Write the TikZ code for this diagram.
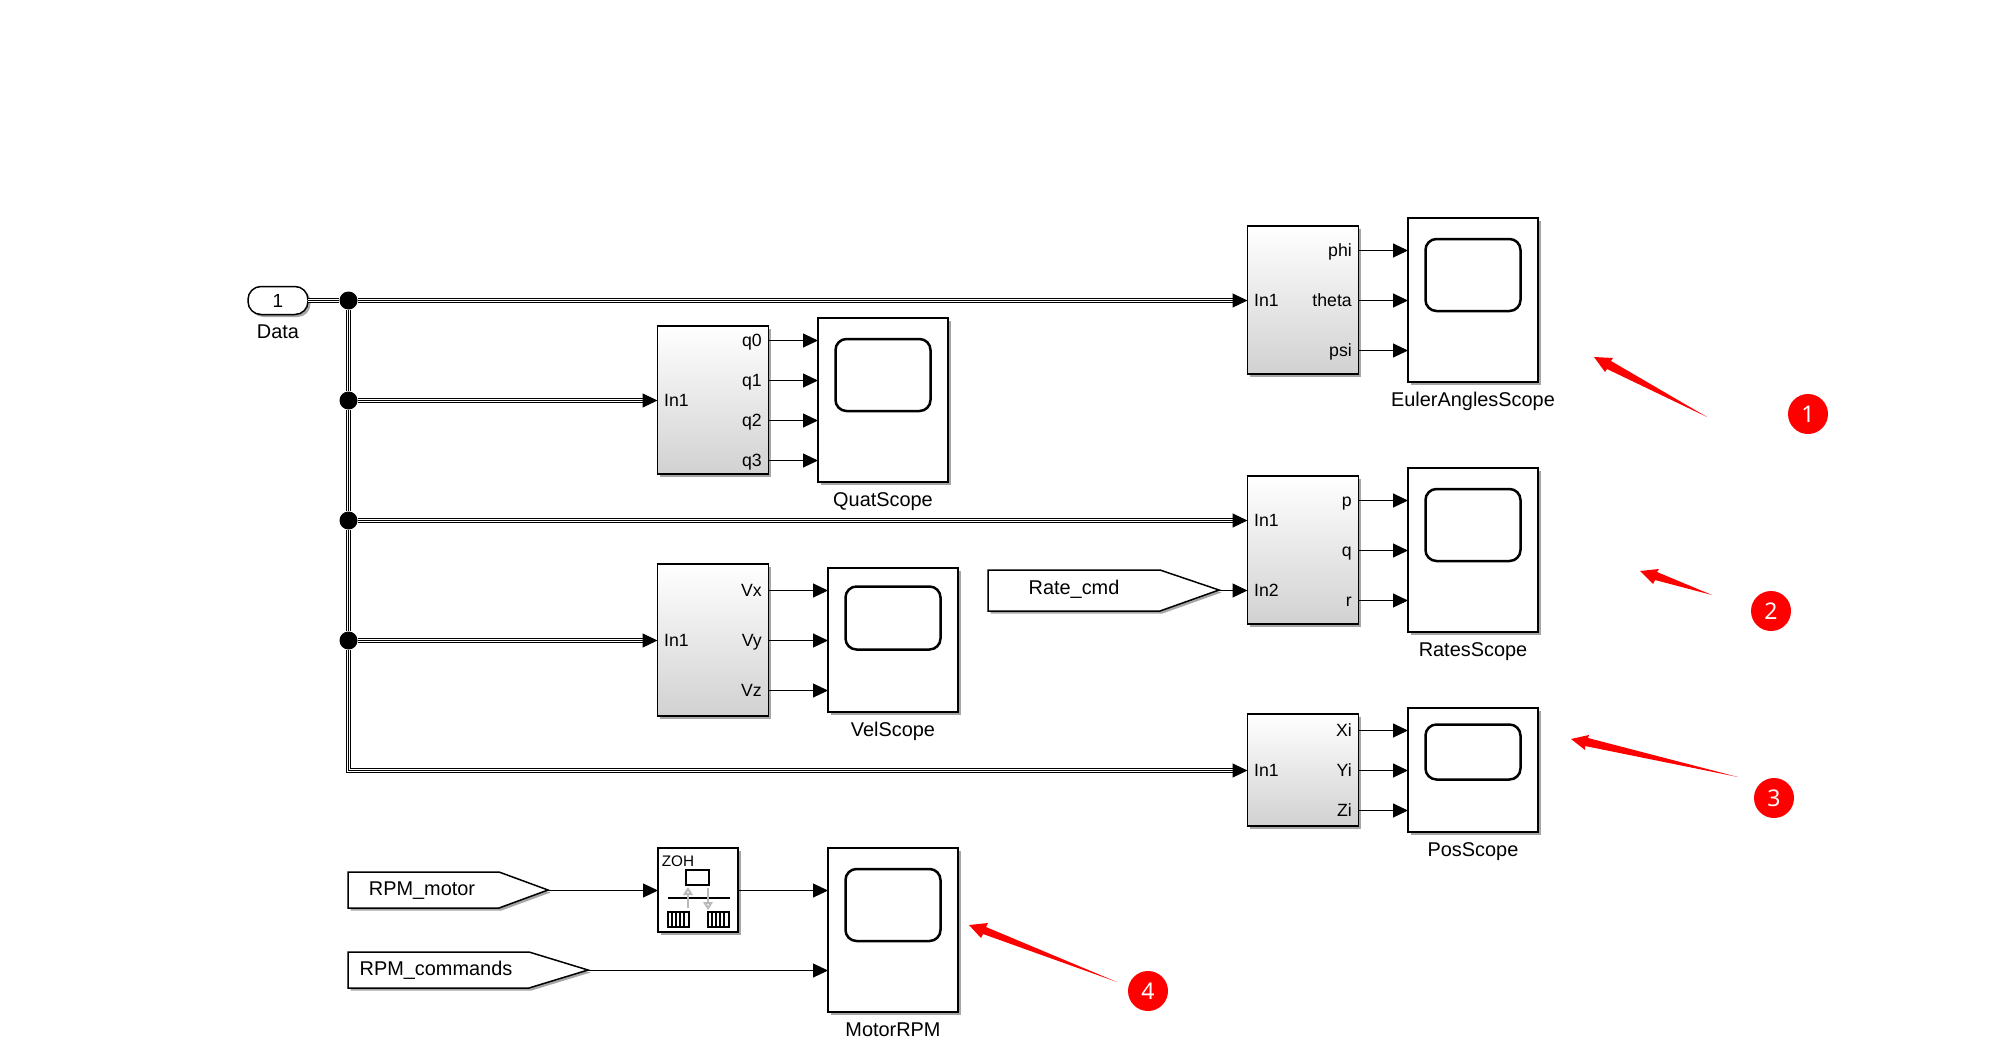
\documentclass[tikz,border=0pt]{standalone}
\usepackage{fontspec}
\setmainfont{Liberation Sans}
\newfontfamily\badgefont{Noto Sans}
\usetikzlibrary{arrows.meta,positioning,shadows}

\tikzset{
    blkshadow/.style={drop shadow={shadow xshift=2.5pt,shadow yshift=-2.5pt,fill=black,opacity=0.35}},
    subsys/.style={draw,line width=1.5pt,inner sep=0pt,outer sep=0pt,minimum width=111pt,blkshadow,
        top color=white,middle color=white,bottom color=black!18},
    scopeblk/.style={draw,line width=1.5pt,fill=white,inner sep=0pt,outer sep=0pt,minimum width=130pt,blkshadow},
    scrn/.style={draw,line width=2.5pt,rounded corners=11pt,inner sep=0pt,minimum width=95pt},
    lbl/.style={font=\fontsize{19.9}{22}\selectfont,inner sep=0pt,text height=14pt,text depth=0pt},
    portlbl/.style={font=\fontsize{17.7}{20}\selectfont,inner sep=0pt,text height=12.6pt,text depth=0pt},
    gototext/.style={font=\fontsize{19.9}{22}\selectfont,inner sep=0pt,text height=14pt,text depth=0pt},
    gotoblk/.style={draw,line width=1.5pt,fill=white,blkshadow},
    sig/.style={draw,line width=1pt,-{Triangle[length=15pt,width=14pt]}},
    junct/.style={circle,fill=black,inner sep=0pt,minimum size=18pt},
    bus/.style={draw=none,
        preaction={draw,black,line width=5pt,shorten >=#1},
        preaction={draw,white,line width=3pt,shorten >=#1},
        preaction={draw,black,line width=1pt,shorten >=#1}},
    bus/.default=0pt,
    bustip/.style={bus=9pt,postaction={draw,black,line width=1pt,-{Triangle[length=15pt,width=14pt]}}},
    zohgray/.style={gray!55,line width=2pt,-{Triangle[open,length=8pt,width=9.5pt]}},
    redarrow/.style={fill=red},
    badge/.style={circle,fill=red,text=white,inner sep=0pt,minimum size=40pt,
        font=\badgefont\fontsize{23}{25}\selectfont},
}

\begin{document}
\begin{tikzpicture}[x=1pt,y=-1pt]
    \useasboundingbox (0,0) rectangle (1995,1061);

    % 1. Data port and bus junctions
    \node[draw,line width=1.5pt,rounded corners=13pt,minimum width=60pt,minimum height=28pt,
        inner sep=0pt,outer sep=0pt,fill=white,blkshadow,font=\fontsize{19}{22}\selectfont] (data) at (278,300.5) {1};
    \node[lbl, below=10pt of data] (datalbl) {Data};
    \node[junct] (j1) at (348.5,300.5) {};
    \node[junct] (j2) at (348.5,400.5) {};
    \node[junct] (j3) at (348.5,520.5) {};
    \node[junct] (j4) at (348.5,640.5) {};

    % 2. Subsystem blocks with their port labels
    \node[subsys, minimum height=148pt] (eulersub) at (1303,300) {};
    \node[portlbl, anchor=west] (eulerin) at (1254,300.5) {In1};
    \node[portlbl, anchor=east] (phi) at (1352,250.5) {phi};
    \node[portlbl, anchor=east] (theta) at (1352,300.5) {theta};
    \node[portlbl, anchor=east] (psi) at (1352,350.5) {psi};

    \node[subsys, minimum height=148pt] (quatsub) at (713,400) {};
    \node[portlbl, anchor=west] (quatin) at (664,400.5) {In1};
    \node[portlbl, anchor=east] (q0) at (762,340.5) {q0};
    \node[portlbl, anchor=east] (q1) at (762,380.5) {q1};
    \node[portlbl, anchor=east] (q2) at (762,420.5) {q2};
    \node[portlbl, anchor=east] (q3) at (762,460.5) {q3};

    \node[subsys, minimum height=148pt] (ratessub) at (1303,550) {};
    \node[portlbl, anchor=west] (ratesin1) at (1254,520.5) {In1};
    \node[portlbl, anchor=west] (ratesin2) at (1254,590.5) {In2};
    \node[portlbl, anchor=east] (pp) at (1352,500.5) {p};
    \node[portlbl, anchor=east] (qq) at (1352,550.5) {q};
    \node[portlbl, anchor=east] (rr) at (1352,600.5) {r};

    \node[subsys, minimum height=152pt] (velsub) at (713,640) {};
    \node[portlbl, anchor=west] (velin) at (664,640.5) {In1};
    \node[portlbl, anchor=east] (vx) at (762,590.5) {Vx};
    \node[portlbl, anchor=east] (vy) at (762,640.5) {Vy};
    \node[portlbl, anchor=east] (vz) at (762,690.5) {Vz};

    \node[subsys, minimum height=112pt] (possub) at (1303,770) {};
    \node[portlbl, anchor=west] (posin) at (1254,770.5) {In1};
    \node[portlbl, anchor=east] (xi) at (1352,730.5) {Xi};
    \node[portlbl, anchor=east] (yi) at (1352,770.5) {Yi};
    \node[portlbl, anchor=east] (zi) at (1352,810.5) {Zi};

    % 3. Scopes
    \node[scopeblk, minimum height=164pt] (eulerscope) at (1473,300) {};
    \node[scrn, minimum height=72pt] (eulerscrn) at (1473,275) {};
    \node[lbl, below=10pt of eulerscope] (eulerlbl) {EulerAnglesScope};

    \node[scopeblk, minimum height=164pt] (quatscope) at (883,400) {};
    \node[scrn, minimum height=72pt] (quatscrn) at (883,375) {};
    \node[lbl, below=10pt of quatscope] (quatlbl) {QuatScope};

    \node[scopeblk, minimum height=164pt] (ratesscope) at (1473,550) {};
    \node[scrn, minimum height=72pt] (ratesscrn) at (1473,525) {};
    \node[lbl, below=10pt of ratesscope] (rateslbl) {RatesScope};

    \node[scopeblk, minimum height=144pt] (velscope) at (893,640) {};
    \node[scrn, minimum height=63pt] (velscrn) at (893,618) {};
    \node[lbl, below=10pt of velscope] (vellbl) {VelScope};

    \node[scopeblk, minimum height=124pt] (posscope) at (1473,770) {};
    \node[scrn, minimum height=55pt] (posscrn) at (1473,752) {};
    \node[lbl, below=10pt of posscope] (poslbl) {PosScope};

    \node[scopeblk, minimum height=164pt] (motorscope) at (893,930) {};
    \node[scrn, minimum height=72pt] (motorscrn) at (893,905) {};
    \node[lbl, below=10pt of motorscope] (motorlbl) {MotorRPM};

    % 4. Tagged signal blocks
    \draw[gotoblk] (988,570) -- (1160,570) -- (1219,590) -- (1160,611) -- (988,611) -- cycle;
    \node[gototext] (ratetxt) at (1074,587) {Rate\_cmd};
    \coordinate (ratetip) at (1219,590.5);

    \draw[gotoblk] (348,872) -- (499,872) -- (548,890) -- (499,908) -- (348,908) -- cycle;
    \node[gototext] (motortxt) at (422,888) {RPM\_motor};
    \coordinate (motortip) at (548,890.5);

    \draw[gotoblk] (348,952) -- (529,952) -- (588,970) -- (529,988) -- (348,988) -- cycle;
    \node[gototext] (cmdtxt) at (436,968) {RPM\_commands};
    \coordinate (cmdtip) at (588,970.5);

    % 5. ZOH block
    \node[scopeblk, minimum width=80pt, minimum height=84pt] (zoh) at (698,890) {};
    \node[inner sep=0pt, font=\fontsize{15.3}{17}\selectfont] (zohtxt) at (678,861) {ZOH};
    \draw[line width=1.5pt] (686,870) rectangle (709,885);
    \draw[line width=1.5pt] (668,898) -- (730,898);
    \draw[zohgray] (688,908) -- (688,887);
    \draw[zohgray] (708,888) -- (708,910);
    \draw[line width=1.4pt] (668,912) rectangle (689,927) (672,912) -- (672,927) (676,912) -- (676,927) (680,912) -- (680,927) (684,912) -- (684,927);
    \draw[line width=1.4pt] (708,912) rectangle (729,927) (712,912) -- (712,927) (716,912) -- (716,927) (720,912) -- (720,927) (724,912) -- (724,927);

    % 6. Bus lines
    \draw[bus] (data) -- (j1);
    \draw[bus] (j1) -- (j2);
    \draw[bus] (j2) -- (j3);
    \draw[bus] (j3) -- (j4);
    \draw[bustip] (j1) -- (eulersub.west |- eulerin);
    \draw[bustip] (j2) -- (quatsub.west |- quatin);
    \draw[bustip] (j3) -- (ratessub.west |- ratesin1);
    \draw[bustip] (j4) -- (velsub.west |- velin);
    \draw[bustip] (j4) |- (possub.west |- posin);

    % 7. Signal lines
    \draw[sig] (eulersub.east |- phi) -- (eulerscope.west |- phi);
    \draw[sig] (eulersub.east |- theta) -- (eulerscope.west |- theta);
    \draw[sig] (eulersub.east |- psi) -- (eulerscope.west |- psi);
    \draw[sig] (quatsub.east |- q0) -- (quatscope.west |- q0);
    \draw[sig] (quatsub.east |- q1) -- (quatscope.west |- q1);
    \draw[sig] (quatsub.east |- q2) -- (quatscope.west |- q2);
    \draw[sig] (quatsub.east |- q3) -- (quatscope.west |- q3);
    \draw[sig] (ratessub.east |- pp) -- (ratesscope.west |- pp);
    \draw[sig] (ratessub.east |- qq) -- (ratesscope.west |- qq);
    \draw[sig] (ratessub.east |- rr) -- (ratesscope.west |- rr);
    \draw[sig] (velsub.east |- vx) -- (velscope.west |- vx);
    \draw[sig] (velsub.east |- vy) -- (velscope.west |- vy);
    \draw[sig] (velsub.east |- vz) -- (velscope.west |- vz);
    \draw[sig] (possub.east |- xi) -- (posscope.west |- xi);
    \draw[sig] (possub.east |- yi) -- (posscope.west |- yi);
    \draw[sig] (possub.east |- zi) -- (posscope.west |- zi);
    \draw[sig] (ratetip) -- (ratessub.west |- ratesin2);
    \draw[sig] (motortip) -- (zoh.west |- motortip);
    \draw[sig] (zoh.east |- motortip) -- (motorscope.west |- motortip);
    \draw[sig] (cmdtip) -- (motorscope.west |- cmdtip);

    % 8. Red arrows and numbers
    \fill[redarrow] (1594,357) -- (1613,358) -- (1611,361) -- (1707,417) -- (1607,369) -- (1605,372) -- cycle;
    \fill[redarrow] (1640,571) -- (1659,569) -- (1657,572) -- (1712,595) -- (1655,580) -- (1653,584) -- cycle;
    \fill[redarrow] (1571,739) -- (1589,735) -- (1588,738) -- (1738,777) -- (1585,746) -- (1585,750) -- cycle;
    \fill[redarrow] (969,925) -- (988,923) -- (986,927) -- (1117,982) -- (983,934) -- (981,938) -- cycle;
    \node[badge] (b1) at (1808,414) {1};
    \node[badge] (b2) at (1771,611) {2};
    \node[badge] (b3) at (1774,798) {3};
    \node[badge] (b4) at (1148,991) {4};
\end{tikzpicture}
\end{document}
